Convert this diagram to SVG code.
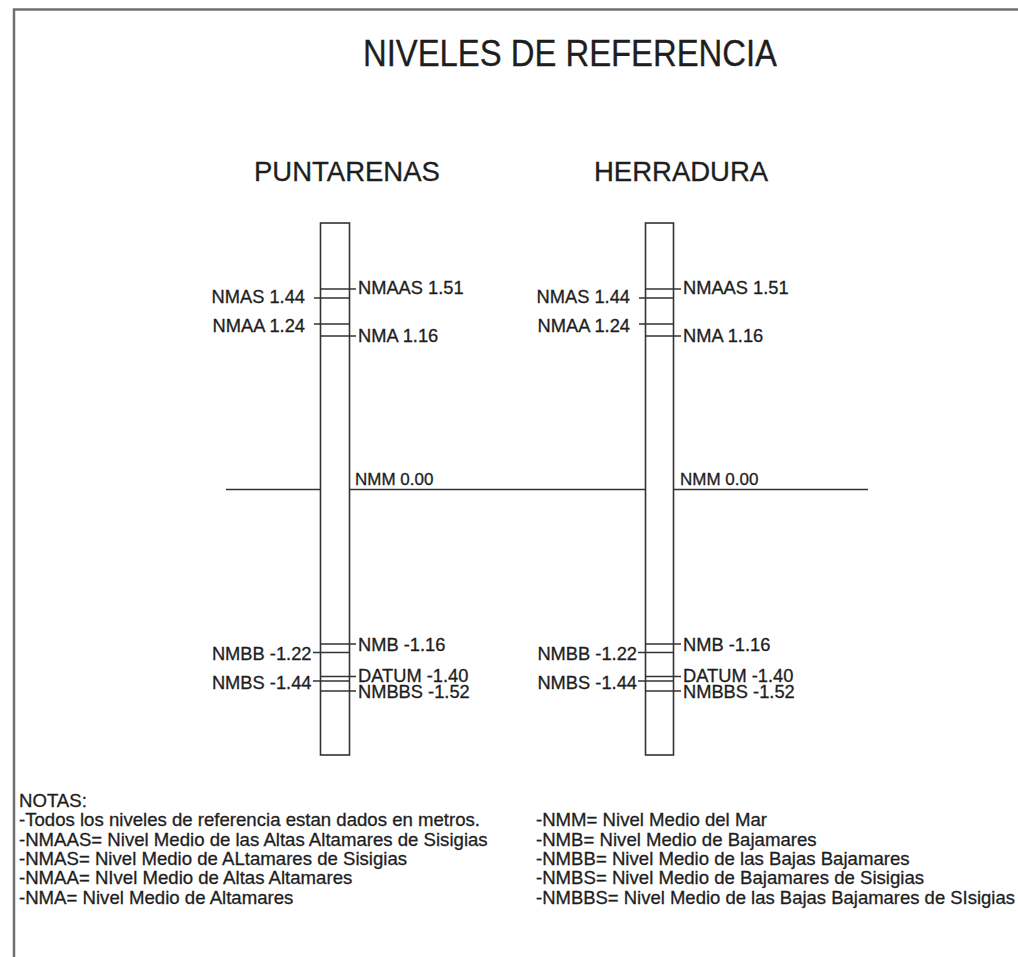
<svg xmlns="http://www.w3.org/2000/svg" width="1018" height="957" viewBox="0 0 1018 957">
<style>
text{font-family:"Liberation Sans",Arial,sans-serif;fill:#1e1e1e;stroke:#1e1e1e;stroke-width:0.3}
.lbl{font-size:18.3px}
.hdr{font-size:27.5px}
.note{font-size:18.6px}
.col{fill:#fff;stroke:#333;stroke-width:1.6}
.tk{stroke:#333;stroke-width:1.6;fill:none}
.frame{stroke:#707070;stroke-width:2.5;fill:none}
</style>
<rect width="1018" height="957" fill="#fff"/>
<path class="frame" d="M14,957 V9.5 H1018"/>
<text x="363" y="66" font-size="36" textLength="414" lengthAdjust="spacingAndGlyphs">NIVELES DE REFERENCIA</text>
<g id="connectors">
<line class="tk" x1="226" y1="489.5" x2="868" y2="489.5"/>
</g>
<g id="puntarenas">
<text class="hdr" x="254" y="181">PUNTARENAS</text>
<rect class="col" x="320.5" y="223" width="29" height="532"/>
<path class="tk" d="M320.5,289 H356 M314,298 H349.5 M314,324 H349.5 M320.5,336 H356 M320.5,644 H356 M313,652.5 H349.5 M320.5,676.5 H356 M313,681 H349.5 M320.5,691 H356"/>
<text class="lbl" x="358" y="293.5">NMAAS 1.51</text>
<text class="lbl" x="305" y="303" text-anchor="end">NMAS 1.44</text>
<text class="lbl" x="305" y="332" text-anchor="end">NMAA 1.24</text>
<text class="lbl" x="358" y="341.5">NMA 1.16</text>
<text x="355" y="485" font-size="17">NMM 0.00</text>
<text class="lbl" x="358" y="651">NMB -1.16</text>
<text class="lbl" x="311.5" y="660" text-anchor="end">NMBB -1.22</text>
<text class="lbl" x="358" y="681.5">DATUM -1.40</text>
<text class="lbl" x="311.5" y="688.5" text-anchor="end">NMBS -1.44</text>
<text class="lbl" x="358" y="697.5">NMBBS -1.52</text>
</g>
<g id="herradura">
<text class="hdr" x="594" y="181">HERRADURA</text>
<rect class="col" x="645.5" y="223" width="28" height="532"/>
<path class="tk" d="M645.5,289 H681 M639,298 H673.5 M639,324 H673.5 M645.5,336 H681 M645.5,644 H681 M638,652.5 H673.5 M645.5,676.5 H681 M638,681 H673.5 M645.5,691 H681"/>
<text class="lbl" x="683" y="293.5">NMAAS 1.51</text>
<text class="lbl" x="630" y="303" text-anchor="end">NMAS 1.44</text>
<text class="lbl" x="630" y="332" text-anchor="end">NMAA 1.24</text>
<text class="lbl" x="683" y="341.5">NMA 1.16</text>
<text x="680" y="485" font-size="17">NMM 0.00</text>
<text class="lbl" x="683" y="651">NMB -1.16</text>
<text class="lbl" x="637" y="660" text-anchor="end">NMBB -1.22</text>
<text class="lbl" x="683" y="681.5">DATUM -1.40</text>
<text class="lbl" x="637" y="688.5" text-anchor="end">NMBS -1.44</text>
<text class="lbl" x="683" y="697.5">NMBBS -1.52</text>
</g>
<g id="notas">
<text class="note" x="19" y="807">NOTAS:</text>
<text class="note" x="19" y="826.3">-Todos los niveles de referencia estan dados en metros.</text>
<text class="note" x="19" y="845.6">-NMAAS= Nivel Medio de las Altas Altamares de Sisigias</text>
<text class="note" x="19" y="864.9">-NMAS= Nivel Medio de ALtamares de Sisigias</text>
<text class="note" x="19" y="884.2">-NMAA= NIvel Medio de Altas Altamares</text>
<text class="note" x="19" y="903.5">-NMA= Nivel Medio de Altamares</text>
<text class="note" x="536" y="826.3">-NMM= Nivel Medio del Mar</text>
<text class="note" x="536" y="845.6">-NMB= Nivel Medio de Bajamares</text>
<text class="note" x="536" y="864.9">-NMBB= Nivel Medio de las Bajas Bajamares</text>
<text class="note" x="536" y="884.2">-NMBS= Nivel Medio de Bajamares de Sisigias</text>
<text class="note" x="536" y="903.5" textLength="479" lengthAdjust="spacingAndGlyphs">-NMBBS= Nivel Medio de las Bajas Bajamares de SIsigias</text>
</g>
</svg>
